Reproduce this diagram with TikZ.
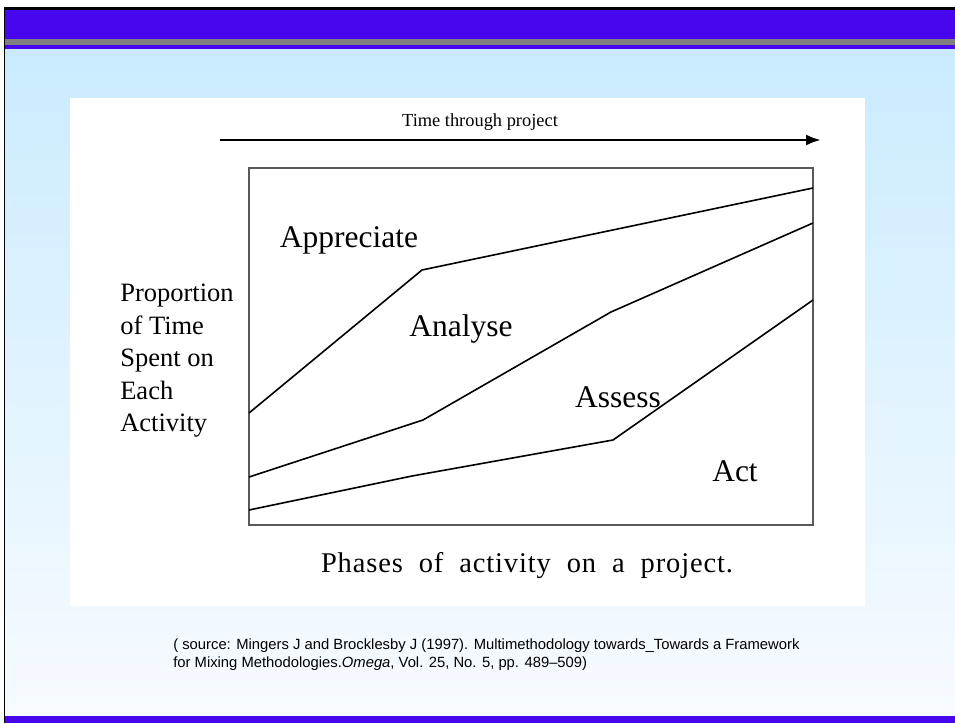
\documentclass[tikz,border=0pt]{standalone}
\usepackage{fontspec}
\setmainfont{Liberation Serif}
\newfontfamily\srcfont{Liberation Sans}
\newfontfamily\capfont[LetterSpace=3]{Liberation Serif}
\usepackage{xcolor}
\usetikzlibrary{arrows.meta}
\usetikzlibrary{positioning}

\definecolor{barpurple}{HTML}{4806EE}
\definecolor{bargray}{HTML}{808080}
\definecolor{skytop}{HTML}{CAEBFF}
\definecolor{skybot}{HTML}{F7FBFF}

\begin{document}
\begin{tikzpicture}[x=1pt,y=-1pt,semithick]
  \tikzstyle{phase}=[draw=black, line width=1.6pt]
  \tikzstyle{chartbox}=[draw=black!65, line width=1.5pt]
  \tikzstyle{lbl}=[inner sep=0pt, font=\fontsize{31.5}{35}\selectfont]
  \tikzstyle{ylbl}=[inner sep=0pt, align=left, font=\fontsize{26.5}{32.5}\selectfont]
  \tikzstyle{src}=[inner sep=0pt, align=left, font=\srcfont\fontsize{14.8}{18.5}\selectfont]
  \useasboundingbox (0,0) rectangle (955,723);
  \fill[white] (0,0) rectangle (955,723);
  % slide background
  \shade[top color=skytop, bottom color=skybot] (4,49) rectangle (955,716);
  \fill[black] (3.5,7) rectangle (955,9.5);
  \fill[barpurple] (5,9.5) rectangle (955,39);
  \fill[bargray] (5,39) rectangle (955,45);
  \fill[barpurple] (5,45) rectangle (955,49);
  \fill[barpurple] (5,716) rectangle (955,723);
  \fill[black] (3.5,7) rectangle (5,723);
  % picture panel
  \fill[white] (70,98) rectangle (865,606);
  % time arrow
  \coordinate (t0) at (220,140);
  \coordinate (t1) at (821,140);
  \draw[line width=2.6pt, -{Latex[length=15pt,width=11pt]}] (t0) -- (t1);
  \node[inner sep=0pt, font=\fontsize{18.4}{21}\selectfont] (time) at (480,122) {Time through project};
  % chart
  \draw[chartbox] (249,168) rectangle (813,525);
  \draw[phase] (249,413) -- (422,270) -- (813,188);
  \draw[phase] (249,477) -- (423,420) -- (611,312) -- (813,223);
  \draw[phase] (249,510) -- (412,476) -- (613,440) -- (813,300);
  \node[lbl] (appr) at (349,240) {Appreciate};
  \node[lbl] (anal) at (461,329) {Analyse};
  \node[lbl] (asse) at (618,397) {Assess};
  \node[lbl] (act)  at (735,471) {Act};
  \node[ylbl, anchor=west] (prop) at (120,361) {Proportion\\of Time\\Spent on\\Each\\Activity};
  \node[inner sep=0pt, font=\capfont\fontsize{28.5}{32}\selectfont] (phases) at (527,566)
    {Phases\ \ of\ \ activity\ \ on\ \ a\ \ project.};
  % source
  \node[src, anchor=north west] (source) at (173,638)
    {( source: Mingers J and Brocklesby J (1997). Multimethodology towards\_Towards a Framework\\
     for Mixing Methodologies.\textit{Omega}, Vol. 25, No. 5, pp. 489\textendash509)};
\end{tikzpicture}
\end{document}
